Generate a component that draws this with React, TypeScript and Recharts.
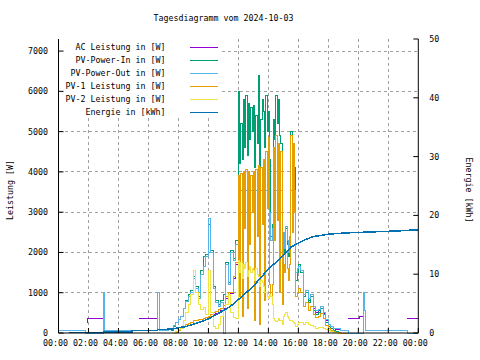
import * as React from 'react';
import { ComposedChart, Line, XAxis, YAxis, CartesianGrid } from 'recharts';

const FONT = "'DejaVu Sans Mono', monospace";
const FONT_SIZE = 8.3;

const title = 'Tagesdiagramm vom 2024-10-03';
const leftAxisLabel = 'Leistung [W]';
const rightAxisLabel = 'Energie [kWh]';

const seriesNames = [
  'AC Leistung in [W]',
  'PV-Power-In in [W]',
  'PV-Power-Out in [W]',
  'PV-1 Leistung in [W]',
  'PV-2 Leistung in [W]',
  'Energie in [kWh]',
];
const seriesColors = ['#9400d3', '#009e73', '#56b4e9', '#e69f00', '#f0e442', '#0072b2'];

const hourTicks = [0, 2, 4, 6, 8, 10, 12, 14, 16, 18, 20, 22, 24];
const minorHourTicks = [1, 3, 5, 7, 9, 11, 13, 15, 17, 19, 21, 23];
const gridHours = [2, 4, 6, 8, 10, 12, 14, 16, 18, 20, 22];
const powerTicks = [0, 1000, 2000, 3000, 4000, 5000, 6000, 7000];
const gridPower = [1000, 2000, 3000, 4000, 5000, 6000, 7000];
const energyTicks = [0, 10, 20, 30, 40, 50];

// sample times: 10 min steps 07:00-11:50, 5 min steps 12:00-15:55, 10 min steps 16:00-19:20
const morningTimes = Array.from({ length: 30 }, (_, i) => 7 + i / 6);
const peakTimes = Array.from({ length: 48 }, (_, i) => 12 + i / 12);
const eveningTimes = Array.from({ length: 21 }, (_, i) => 16 + i / 6);

type V = number | null;

// AC Leistung [W]
const acNightMorning: [number, V][] = [
  [1.87, 250], [1.93, 350], [2.95, 350], [2.96, null], [5.4, 350], [6.65, 350], [6.66, null],
];
const acMorning: V[] = [
  null, null, null, null, 0, 20, 60, 120, 170, 200, 240, 270, 300, 320, 330, 340, 360, 380, 400, 420,
  450, 480, 520, 560, 600, 850, 950, 980, 1350, 1700,
];
const acPeak: V[] = [
  3550, 2500, 3550, 2000, 3550, 3550, 3550, 2300, 3550, 3000, 3550, 3550, 3550, 1800, 3550, 3200,
  3550, 1600, 3550, 3550, 3550, 2600, 3550, 3550, 3550, 3000, 2300, 2600, 3550, 3100, 3550, 3550,
  3550, 2900, 3550, 1600, 2500, 2100, 2650, 2300, 2000, 2400, 3550, 3400, 3550, 3550, 1500, 1600,
];
const acEvening: V[] = [
  1650, 1500, 900, 1000, 800, 900, 600, 500, 550, 620, 480, 300, 200, 150, 100, 80, 80, 60, 60, null, 350,
];
const acNightEvening: [number, V][] = [
  [20.1, 400], [20.33, 400], [20.34, null], [23.27, 350], [24, 350],
];

// PV-Power-In [W]
const pvInMorning: V[] = [
  null, null, null, 60, 170, 260, 340, 420, 620, 800, 950, 1050, 1400, 1150, 900, 1550, 1900, 1950,
  2700, 2050, 1150, 800, 700, 800, 950, 1750, 1250, 2050, 1850, 2300,
];
const pvInPeak: V[] = [
  6000, 4200, 5200, 4300, 5800, 4600, 5900, 4400, 5700, 4800, 5600, 5000, 5650, 4100, 5400, 4700,
  6400, 4000, 5300, 5800, 5500, 4600, 5900, 5000, 5500, 4300, 2400, 2700, 5300, 4800, 5900, 5200,
  5800, 4900, 4700, 1500, 2400, 2000, 2600, 2200, 1900, 2300, 5000, 4400, 4700, 4100, 1300, 1500,
];
const pvInEvening: V[] = [
  1700, 1500, 900, 1000, 750, 900, 550, 450, 500, 600, 450, 250, 150, 100, 60, 40, 20, 0, 0, null, null,
];

// PV-Power-Out [W]
const pvOutNightMorning: [number, V][] = [
  [0, 70], [1.83, 0], [2.98, 1000], [3.08, 70], [6.63, 1000], [6.75, 60],
];
const pvOutMorning: V[] = [
  60, 60, 80, 100, 180, 260, 330, 400, 600, 780, 900, 1000, 1350, 1100, 850, 1450, 1650, 1900,
  2850, 2000, 1100, 750, 650, 750, 0, 1700, 1200, 2000, 1800, 2200,
];
const pvOutPeak: V[] = [
  3550, 2500, 3550, 2000, 3550, 3550, 3550, 2300, 3550, 3000, 3550, 3550, 3550, 1800, 3550, 3200,
  3550, 1600, 3550, 3550, 3550, 2600, 3550, 3550, 3550, 3000, 2300, 2600, 3550, 3100, 3550, 3550,
  3550, 2900, 3550, 1600, 2500, 2100, 2650, 2300, 2000, 2400, 3550, 3400, 3550, 3550, 1500, 1600,
];
const pvOutEvening: V[] = [
  1650, 1550, 950, 1050, 850, 950, 650, 550, 580, 650, 520, 330, 220, 170, 120, 100, 100, 70, 70, 70, 0,
];
const pvOutNightEvening: [number, V][] = [
  [20.35, 1000], [20.43, 550], [20.5, 70], [23.27, 0], [24, 0],
];

// PV-1 Leistung [W]
const pv1Morning: V[] = [
  null, null, null, null, 0, 20, 60, 120, 170, 200, 240, 270, 300, 320, 330, 340, 360, 380, 420,
  450, 500, 540, 580, 620, 680, 900, 1000, 1000, 1400, 1750,
];
const pv1Peak: V[] = [
  3900, 900, 3950, 400, 4000, 2600, 4050, 600, 4000, 2200, 3900, 3000, 4000, 300, 4050, 2400,
  4150, 200, 4100, 2700, 4300, 800, 4500, 3100, 4850, 1200, 900, 1200, 4600, 2300, 4900, 2800,
  4700, 1000, 4500, 700, 1700, 1500, 2000, 1600, 1300, 1700, 4900, 2500, 4700, 3000, 900, 1000,
];
const pv1Evening: V[] = [
  1100, 1000, 650, 750, 550, 650, 450, 380, 420, 480, 350, 180, 100, 60, 30, 20, 10, 0, 0, 0, 0,
];

// PV-2 Leistung [W]
const pv2Morning: V[] = [
  null, null, null, null, 0, 30, 80, 120, 300, 500, 700, 950, 1550, 1000, 700, 580, 640, 450, 1550,
  500, 150, 100, 200, 400, 550, 700, 950, 500, 380, 350,
];
const pv2Peak: V[] = [
  1800, 1500, 1750, 1350, 1700, 1600, 1750, 1400, 1550, 1650, 1500, 1600, 1550, 1300, 1600, 1450,
  1400, 1150, 1300, 1250, 1150, 1000, 1000, 900, 850, 950, 900, 700, 350, 300, 280, 320,
  350, 300, 300, 200, 400, 450, 500, 420, 350, 320, 300, 280, 250, 230, 150, 200,
];
const pv2Evening: V[] = [
  250, 250, 200, 250, 200, 180, 150, 120, 130, 140, 110, 80, 50, 30, 20, 10, 0, 0, null, null, null,
];

// Energie [kWh]
const energyKwh: [number, number][] = [
  [0.67, 0.05], [3.0, 0.05], [3.0, 0.2], [4.9, 0.2], [4.9, 0.45], [6.6, 0.45], [6.6, 0.6],
  [7.5, 0.65], [8.0, 0.9], [8.5, 1.1], [9.0, 1.5], [9.5, 1.9], [10.0, 2.4], [10.5, 3.1],
  [11.0, 3.8], [11.5, 4.6], [12.0, 5.7], [12.5, 6.8], [13.0, 8.0], [13.5, 9.4], [14.0, 10.9],
  [14.5, 12.0], [15.0, 13.2], [15.5, 14.6], [16.0, 15.3], [16.5, 15.9], [17.0, 16.4],
  [17.5, 16.6], [18.0, 16.8], [19.0, 17.0], [20.0, 17.1], [21.0, 17.2], [22.0, 17.3],
  [23.0, 17.4], [23.5, 17.5], [24.0, 17.5],
];

type Pt = { t: number; v: V };
const fromPairs = (list: [number, V][]): Pt[] => list.map(([t, v]) => ({ t, v }));
const fromGrid = (times: number[], values: V[]): Pt[] => values.map((v, i) => ({ t: times[i], v }));
const daySeries = (m: V[], p: V[], e: V[]): Pt[] => [
  ...fromGrid(morningTimes, m),
  ...fromGrid(peakTimes, p),
  ...fromGrid(eveningTimes, e),
];

const acData = [...fromPairs(acNightMorning), ...daySeries(acMorning, acPeak, acEvening), ...fromPairs(acNightEvening)];
const pvInData = daySeries(pvInMorning, pvInPeak, pvInEvening);
const pvOutData = [
  ...fromPairs(pvOutNightMorning),
  ...daySeries(pvOutMorning, pvOutPeak, pvOutEvening),
  ...fromPairs(pvOutNightEvening),
];
const pv1Data = daySeries(pv1Morning, pv1Peak, pv1Evening);
const pv2Data = daySeries(pv2Morning, pv2Peak, pv2Evening);
const energyData = fromPairs(energyKwh);

const seriesData = [acData, pvInData, pvOutData, pv1Data, pv2Data];

// the key box hides the grid in the upper left corner
const KEY_RIGHT = 222;
const KEY_BOTTOM = 118;

const hourLabel = (h: number) => String(h % 24).padStart(2, '0') + ':00';

const tickText = { fill: '#000', fontSize: FONT_SIZE, fontFamily: FONT };

function GridV(p: any) {
  const y1 = p.x1 < KEY_RIGHT ? Math.max(p.y1, KEY_BOTTOM) : p.y1;
  return <line key={p.key ?? p.index} x1={p.x1} x2={p.x2} y1={y1} y2={p.y2} stroke="#a0a0a0" strokeDasharray="3 3" shapeRendering="crispEdges" />;
}

function GridH(p: any) {
  const x1 = p.y1 < KEY_BOTTOM ? Math.max(p.x1, KEY_RIGHT) : p.x1;
  return <line key={p.key ?? p.index} x1={x1} x2={p.x2} y1={p.y1} y2={p.y2} stroke="#a0a0a0" strokeDasharray="3 3" shapeRendering="crispEdges" />;
}

export default function App() {
  return (
    <div style={{ position: 'absolute', left: 0, top: 0, width: 480, height: 360, background: '#fff' }}>
      <ComposedChart width={480} height={360} margin={{ top: 39, right: 0, bottom: 0, left: 0 }}>
        <CartesianGrid
          yAxisId="left"
          verticalValues={gridHours}
          horizontalValues={gridPower}
          vertical={GridV}
          horizontal={GridH}
        />
        <XAxis xAxisId="minor" type="number" dataKey="t" domain={[0, 24]} ticks={minorHourTicks} interval={0}
          orientation="bottom" height={0} tick={false} tickSize={-3} axisLine={false} tickLine={{ stroke: '#000' }} />
        <XAxis type="number" dataKey="t" domain={[0, 24]} ticks={hourTicks} interval={0} height={27}
          tickSize={-5} tickMargin={12} tickFormatter={hourLabel} tick={{ ...tickText, dx: -3 }}
          axisLine={{ stroke: '#000' }} tickLine={{ stroke: '#000' }} />
        <XAxis xAxisId="topMinor" type="number" dataKey="t" domain={[0, 24]} ticks={minorHourTicks} interval={0}
          orientation="top" height={0} tick={false} tickSize={-3} axisLine={false} tickLine={{ stroke: '#000' }} />
        <XAxis xAxisId="topMajor" type="number" dataKey="t" domain={[0, 24]} ticks={hourTicks} interval={0}
          orientation="top" height={0} tick={false} tickSize={-5} axisLine={{ stroke: '#000' }} tickLine={{ stroke: '#000' }} />
        <YAxis yAxisId="left" type="number" domain={[0, 7300]} ticks={powerTicks} interval={0} width={58.5}
          tickSize={-5} tickMargin={15.5} tick={tickText} axisLine={{ stroke: '#000' }} tickLine={{ stroke: '#000' }} />
        <YAxis yAxisId="leftMirror" orientation="right" type="number" domain={[0, 7300]} ticks={powerTicks} interval={0}
          width={0} tick={false} tickSize={-5} axisLine={false} tickLine={{ stroke: '#000' }} />
        <YAxis yAxisId="right" orientation="right" type="number" domain={[0, 50]} ticks={energyTicks} interval={0}
          width={61.7} tickSize={-5} tickMargin={16} tick={tickText} axisLine={{ stroke: '#000' }} tickLine={{ stroke: '#000' }} />
        {seriesData.map((data, k) => (
          <Line
            key={seriesNames[k]}
            data={data}
            dataKey="v"
            name={seriesNames[k]}
            yAxisId="left"
            type="stepAfter"
            stroke={seriesColors[k]}
            strokeWidth={1}
            dot={false}
            activeDot={false}
            connectNulls={false}
            shapeRendering="crispEdges"
            isAnimationActive={false}
          />
        ))}
        <Line
          data={energyData}
          dataKey="v"
          name={seriesNames[5]}
          yAxisId="right"
          type="linear"
          stroke={seriesColors[5]}
          strokeWidth={1.5}
          dot={false}
          activeDot={false}
          shapeRendering="crispEdges"
          isAnimationActive={false}
        />
      </ComposedChart>
      <svg width={480} height={360} style={{ position: 'absolute', left: 0, top: 0, pointerEvents: 'none' }}
        fontFamily={FONT} fontSize={FONT_SIZE} fill="#000">
        <text x={223.5} y={18} textAnchor="middle" dominantBaseline="central">{title}</text>
        <text transform="translate(10,190) rotate(-90)" textAnchor="middle" dominantBaseline="central">{leftAxisLabel}</text>
        <text transform="translate(469,190) rotate(90)" textAnchor="middle" dominantBaseline="central">{rightAxisLabel}</text>
        {seriesNames.map((name, k) => (
          <g key={name}>
            <text x={165.5} y={46.7 + 13 * k} textAnchor="end" dominantBaseline="central">{name}</text>
            <line x1={190} x2={217.5} y1={47 + 13 * k} y2={47 + 13 * k} stroke={seriesColors[k]} strokeWidth={1} shapeRendering="crispEdges" />
          </g>
        ))}
      </svg>
    </div>
  );
}
